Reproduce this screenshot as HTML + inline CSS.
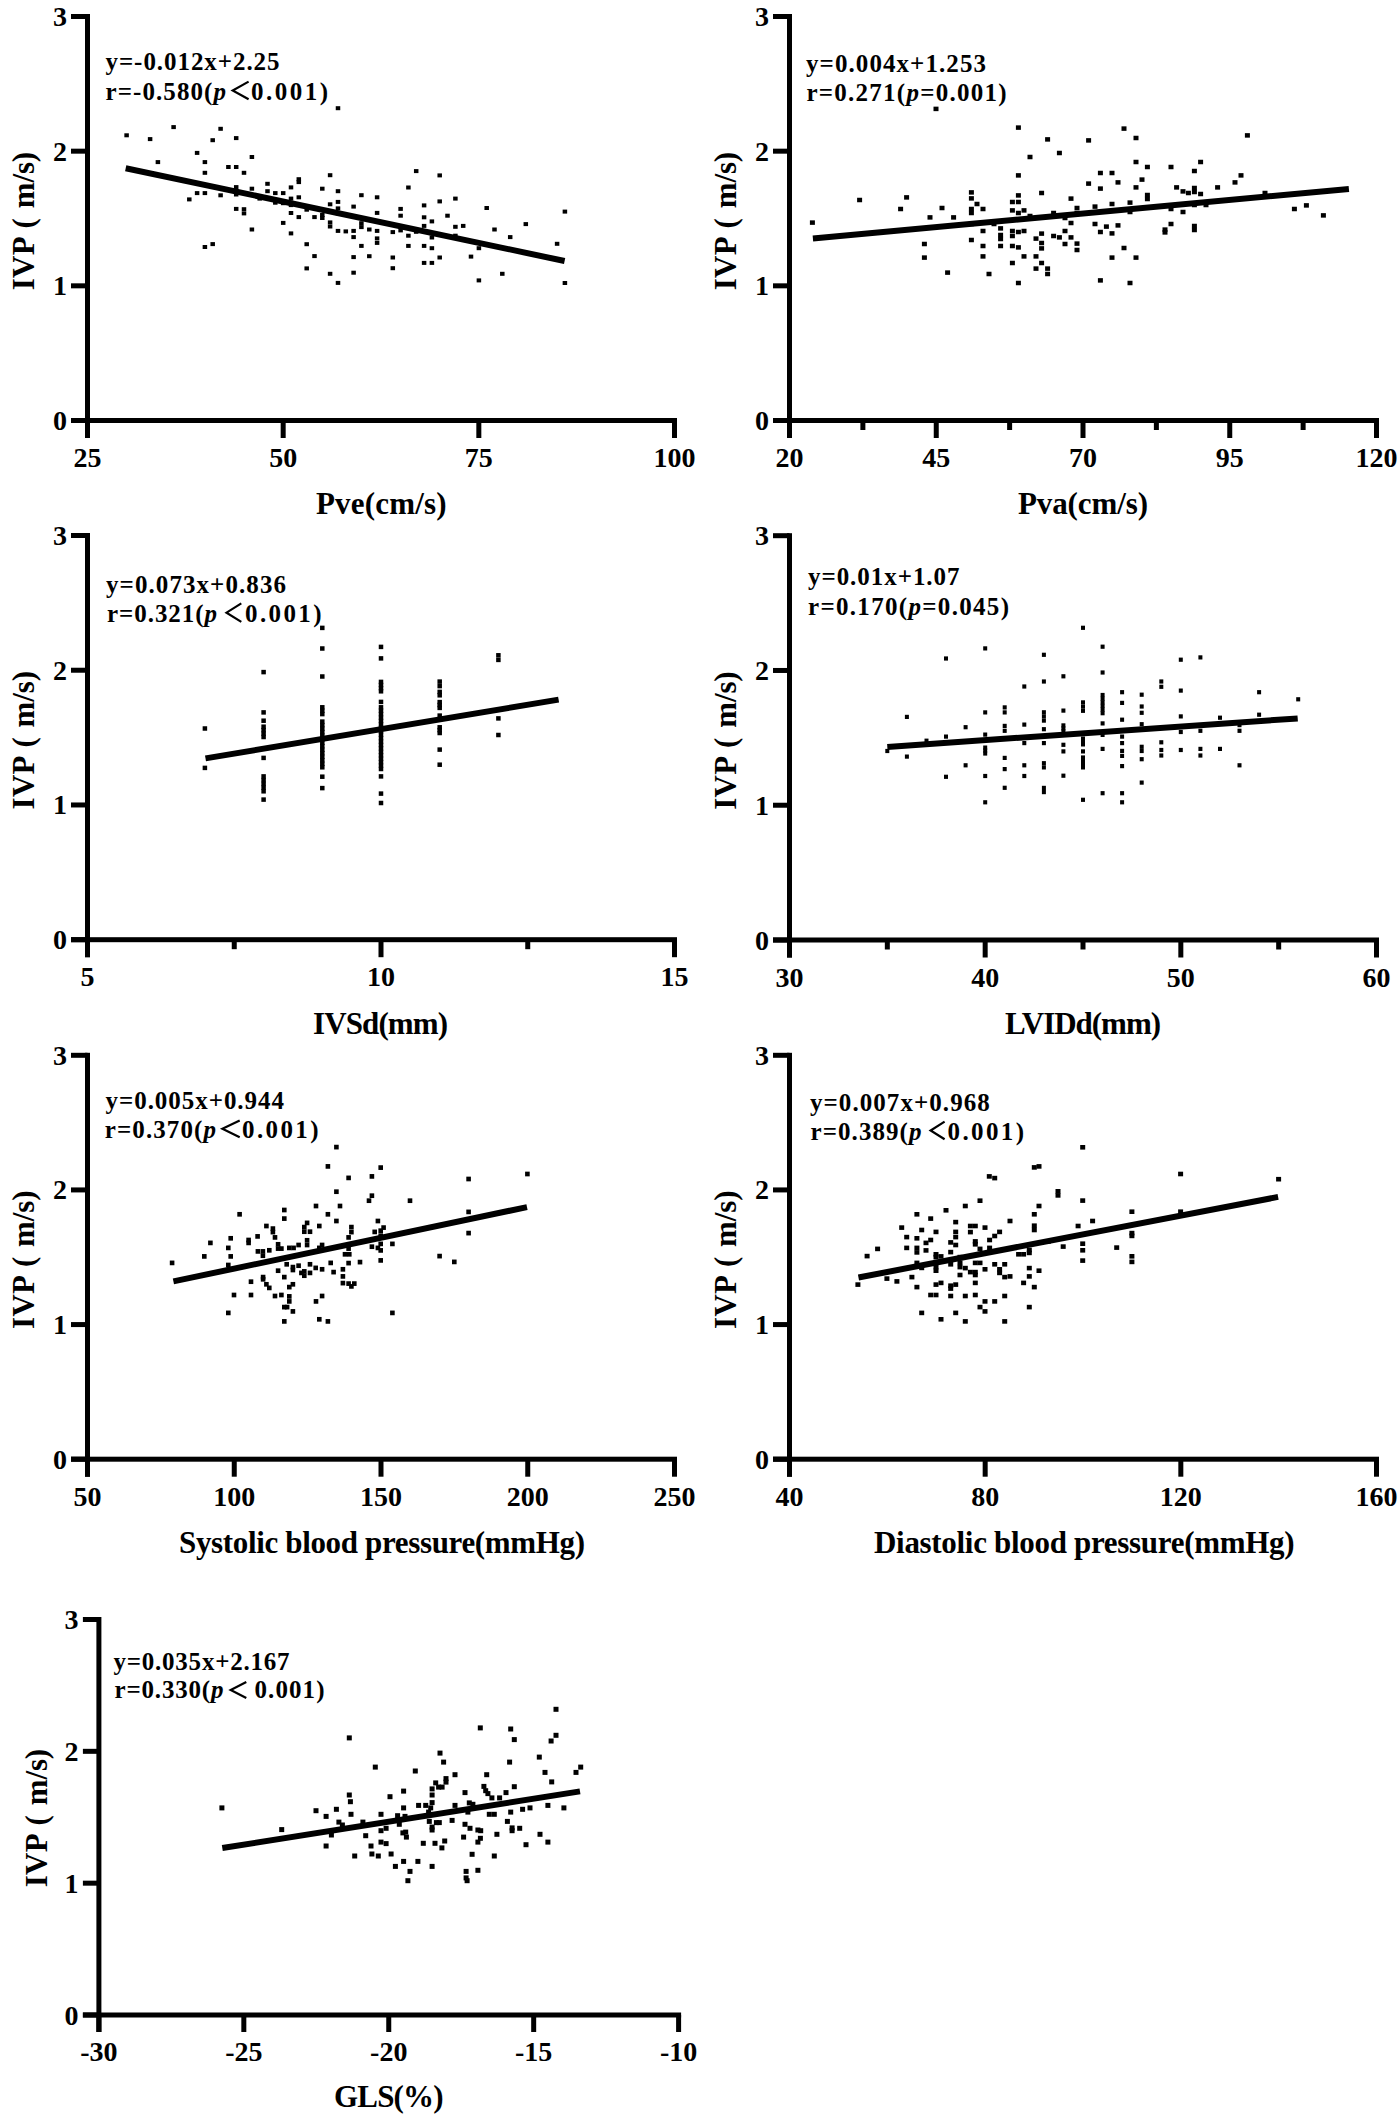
<!DOCTYPE html><html><head><meta charset="utf-8"><style>html,body{margin:0;padding:0;background:#fff;overflow:hidden}svg{display:block}text{font-family:"Liberation Serif", serif;font-weight:bold;fill:#000}</style></head><body>
<svg width="1400" height="2123" viewBox="0 0 1400 2123">
<g><rect x="85" y="14" width="5" height="424"/><rect x="71" y="418" width="606" height="5"/><rect x="71" y="418" width="16.5" height="5"/><rect x="71" y="283.33" width="16.5" height="5"/><rect x="71" y="148.67" width="16.5" height="5"/><rect x="71" y="14" width="16.5" height="5"/><rect x="85" y="420.5" width="5" height="17.5"/><rect x="280.67" y="420.5" width="5" height="17.5"/><rect x="476.33" y="420.5" width="5" height="17.5"/><rect x="672" y="420.5" width="5" height="17.5"/><text x="67" y="430" font-size="28" text-anchor="end">0</text><text x="67" y="295.33" font-size="28" text-anchor="end">1</text><text x="67" y="160.67" font-size="28" text-anchor="end">2</text><text x="67" y="26" font-size="28" text-anchor="end">3</text><text x="87.5" y="467" font-size="28" text-anchor="middle">25</text><text x="283.17" y="467" font-size="28" text-anchor="middle">50</text><text x="478.83" y="467" font-size="28" text-anchor="middle">75</text><text x="674.5" y="467" font-size="28" text-anchor="middle">100</text><text x="316" y="513.7" font-size="31" textLength="130.5" lengthAdjust="spacing">Pve(cm/s)</text><text transform="translate(34 289.2) rotate(-90)" font-size="31"><tspan x="-1" y="0" textLength="53.9" lengthAdjust="spacing">IVP</tspan><tspan x="60.8" y="0">(</tspan><tspan x="80.9" y="0" textLength="56.5" lengthAdjust="spacing">m/s)</tspan></text><text x="105.5" y="70" font-size="25" textLength="174" lengthAdjust="spacing">y=-0.012x+2.25</text><text x="105.5" y="100" font-size="25" textLength="120.5" lengthAdjust="spacing">r=-0.580(<tspan font-style="italic">p</tspan></text><text x="251" y="100" font-size="25" textLength="77" lengthAdjust="spacing">0.001)</text><polyline points="248.6,81.6 232.7,90.45 248.6,99.3" fill="none" stroke="#000" stroke-width="2.2" stroke-linejoin="miter"/><line x1="125.7" y1="168.2" x2="564.6" y2="261" stroke="#000" stroke-width="6"/><rect x="335.75" y="106.2" width="4.5" height="4"/><rect x="171.35" y="125.1" width="4.5" height="4"/><rect x="218.35" y="126.8" width="4.5" height="4"/><rect x="124.35" y="133.3" width="4.5" height="4"/><rect x="147.85" y="137.1" width="4.5" height="4"/><rect x="210.45" y="138.2" width="4.5" height="4"/><rect x="233.95" y="136.1" width="4.5" height="4"/><rect x="194.85" y="150.9" width="4.5" height="4"/><rect x="249.65" y="155" width="4.5" height="4"/><rect x="155.65" y="160.1" width="4.5" height="4"/><rect x="202.65" y="160.1" width="4.5" height="4"/><rect x="226.15" y="165" width="4.5" height="4"/><rect x="233.95" y="165" width="4.5" height="4"/><rect x="202.65" y="170.8" width="4.5" height="4"/><rect x="241.75" y="170.8" width="4.5" height="4"/><rect x="327.85" y="173.2" width="4.5" height="4"/><rect x="296.55" y="177.2" width="4.5" height="4"/><rect x="296.55" y="180.1" width="4.5" height="4"/><rect x="265.25" y="181.8" width="4.5" height="4"/><rect x="288.75" y="185.4" width="4.5" height="4"/><rect x="320.05" y="186.7" width="4.5" height="4"/><rect x="249.65" y="186.7" width="4.5" height="4"/><rect x="335.75" y="189.2" width="4.5" height="4"/><rect x="265.25" y="189.2" width="4.5" height="4"/><rect x="194.85" y="191.1" width="4.5" height="4"/><rect x="202.65" y="191.1" width="4.5" height="4"/><rect x="273.05" y="191.1" width="4.5" height="4"/><rect x="280.95" y="191.1" width="4.5" height="4"/><rect x="233.95" y="185.1" width="4.5" height="4"/><rect x="233.95" y="192.5" width="4.5" height="4"/><rect x="218.35" y="193.3" width="4.5" height="4"/><rect x="257.45" y="196.6" width="4.5" height="4"/><rect x="296.55" y="195.3" width="4.5" height="4"/><rect x="288.75" y="196.6" width="4.5" height="4"/><rect x="187.05" y="197.4" width="4.5" height="4"/><rect x="273.05" y="200.7" width="4.5" height="4"/><rect x="280.95" y="201.2" width="4.5" height="4"/><rect x="288.75" y="203.1" width="4.5" height="4"/><rect x="327.85" y="202.3" width="4.5" height="4"/><rect x="335.75" y="199.9" width="4.5" height="4"/><rect x="335.75" y="206.4" width="4.5" height="4"/><rect x="335.75" y="211.4" width="4.5" height="4"/><rect x="304.45" y="207.7" width="4.5" height="4"/><rect x="233.95" y="206.9" width="4.5" height="4"/><rect x="241.75" y="207.2" width="4.5" height="4"/><rect x="241.75" y="211.4" width="4.5" height="4"/><rect x="288.75" y="211" width="4.5" height="4"/><rect x="296.55" y="215.1" width="4.5" height="4"/><rect x="312.25" y="215.1" width="4.5" height="4"/><rect x="320.05" y="213" width="4.5" height="4"/><rect x="320.05" y="216" width="4.5" height="4"/><rect x="280.95" y="220.9" width="4.5" height="4"/><rect x="327.85" y="220.4" width="4.5" height="4"/><rect x="327.85" y="224.5" width="4.5" height="4"/><rect x="249.65" y="227.5" width="4.5" height="4"/><rect x="335.75" y="228.9" width="4.5" height="4"/><rect x="343.55" y="229.4" width="4.5" height="4"/><rect x="288.75" y="231.4" width="4.5" height="4"/><rect x="304.45" y="242.2" width="4.5" height="4"/><rect x="210.45" y="242.1" width="4.5" height="4"/><rect x="202.65" y="245" width="4.5" height="4"/><rect x="312.25" y="254.1" width="4.5" height="4"/><rect x="304.45" y="266.4" width="4.5" height="4"/><rect x="327.85" y="271.8" width="4.5" height="4"/><rect x="335.75" y="280.9" width="4.5" height="4"/><rect x="413.95" y="169.1" width="4.5" height="4"/><rect x="437.45" y="173.4" width="4.5" height="4"/><rect x="406.15" y="185.5" width="4.5" height="4"/><rect x="359.15" y="193.2" width="4.5" height="4"/><rect x="374.85" y="195.3" width="4.5" height="4"/><rect x="453.15" y="196.6" width="4.5" height="4"/><rect x="351.35" y="204.6" width="4.5" height="4"/><rect x="437.45" y="199.4" width="4.5" height="4"/><rect x="421.85" y="203.4" width="4.5" height="4"/><rect x="398.35" y="206.9" width="4.5" height="4"/><rect x="484.45" y="206" width="4.5" height="4"/><rect x="562.65" y="209.6" width="4.5" height="4"/><rect x="374.85" y="210.9" width="4.5" height="4"/><rect x="398.35" y="213.7" width="4.5" height="4"/><rect x="445.25" y="213.7" width="4.5" height="4"/><rect x="421.85" y="215.3" width="4.5" height="4"/><rect x="429.65" y="219.4" width="4.5" height="4"/><rect x="359.15" y="221.2" width="4.5" height="4"/><rect x="359.15" y="225.1" width="4.5" height="4"/><rect x="523.55" y="222.1" width="4.5" height="4"/><rect x="460.95" y="223.9" width="4.5" height="4"/><rect x="453.15" y="224.8" width="4.5" height="4"/><rect x="421.85" y="223.9" width="4.5" height="4"/><rect x="351.35" y="228.9" width="4.5" height="4"/><rect x="367.05" y="227.5" width="4.5" height="4"/><rect x="374.85" y="228.9" width="4.5" height="4"/><rect x="390.55" y="230.1" width="4.5" height="4"/><rect x="398.35" y="228.4" width="4.5" height="4"/><rect x="413.95" y="229.8" width="4.5" height="4"/><rect x="492.25" y="227.5" width="4.5" height="4"/><rect x="351.35" y="235.1" width="4.5" height="4"/><rect x="374.85" y="236.4" width="4.5" height="4"/><rect x="374.85" y="240.9" width="4.5" height="4"/><rect x="406.15" y="233.7" width="4.5" height="4"/><rect x="429.65" y="235.5" width="4.5" height="4"/><rect x="453.15" y="233.7" width="4.5" height="4"/><rect x="507.95" y="235.1" width="4.5" height="4"/><rect x="359.15" y="243.9" width="4.5" height="4"/><rect x="406.15" y="243.9" width="4.5" height="4"/><rect x="421.85" y="243.9" width="4.5" height="4"/><rect x="429.65" y="246.2" width="4.5" height="4"/><rect x="554.85" y="241.8" width="4.5" height="4"/><rect x="476.65" y="246.2" width="4.5" height="4"/><rect x="351.35" y="255.1" width="4.5" height="4"/><rect x="367.05" y="254.2" width="4.5" height="4"/><rect x="390.55" y="255.5" width="4.5" height="4"/><rect x="437.45" y="255.5" width="4.5" height="4"/><rect x="468.75" y="254.6" width="4.5" height="4"/><rect x="421.85" y="260.9" width="4.5" height="4"/><rect x="429.65" y="260.9" width="4.5" height="4"/><rect x="390.55" y="266.2" width="4.5" height="4"/><rect x="351.35" y="270.7" width="4.5" height="4"/><rect x="500.05" y="271.8" width="4.5" height="4"/><rect x="476.65" y="278.4" width="4.5" height="4"/><rect x="562.65" y="281" width="4.5" height="4"/></g>
<g><rect x="787" y="14" width="5" height="424"/><rect x="773" y="418" width="606" height="5"/><rect x="773" y="418" width="16.5" height="5"/><rect x="773" y="283.33" width="16.5" height="5"/><rect x="773" y="148.67" width="16.5" height="5"/><rect x="773" y="14" width="16.5" height="5"/><rect x="787" y="420.5" width="5" height="17.5"/><rect x="933.75" y="420.5" width="5" height="17.5"/><rect x="1080.5" y="420.5" width="5" height="17.5"/><rect x="1227.25" y="420.5" width="5" height="17.5"/><rect x="1374" y="420.5" width="5" height="17.5"/><rect x="860.38" y="420.5" width="5" height="9.5"/><rect x="1007.12" y="420.5" width="5" height="9.5"/><rect x="1153.88" y="420.5" width="5" height="9.5"/><rect x="1300.62" y="420.5" width="5" height="9.5"/><text x="769" y="430" font-size="28" text-anchor="end">0</text><text x="769" y="295.33" font-size="28" text-anchor="end">1</text><text x="769" y="160.67" font-size="28" text-anchor="end">2</text><text x="769" y="26" font-size="28" text-anchor="end">3</text><text x="789.5" y="467" font-size="28" text-anchor="middle">20</text><text x="936.25" y="467" font-size="28" text-anchor="middle">45</text><text x="1083" y="467" font-size="28" text-anchor="middle">70</text><text x="1229.75" y="467" font-size="28" text-anchor="middle">95</text><text x="1376.5" y="467" font-size="28" text-anchor="middle">120</text><text x="1018" y="514" font-size="31" textLength="130" lengthAdjust="spacing">Pva(cm/s)</text><text transform="translate(736 289.2) rotate(-90)" font-size="31"><tspan x="-1" y="0" textLength="53.9" lengthAdjust="spacing">IVP</tspan><tspan x="60.8" y="0">(</tspan><tspan x="80.9" y="0" textLength="56.5" lengthAdjust="spacing">m/s)</tspan></text><text x="806" y="71.8" font-size="25" textLength="180" lengthAdjust="spacing">y=0.004x+1.253</text><text x="806.5" y="101.25" font-size="25" textLength="200" lengthAdjust="spacing">r=0.271(<tspan font-style="italic">p</tspan>=0.001)</text><line x1="812.9" y1="238.6" x2="1348.9" y2="188.9" stroke="#000" stroke-width="6"/><rect x="933.5" y="106.65" width="5" height="4.5"/><rect x="1015.9" y="125.35" width="5" height="4.5"/><rect x="1045.1" y="137.15" width="5" height="4.5"/><rect x="1056.9" y="150.75" width="5" height="4.5"/><rect x="1027.5" y="154.75" width="5" height="4.5"/><rect x="1015.9" y="173.15" width="5" height="4.5"/><rect x="857.1" y="197.75" width="5" height="4.5"/><rect x="904.1" y="195.15" width="5" height="4.5"/><rect x="968.9" y="190.15" width="5" height="4.5"/><rect x="968.9" y="196.15" width="5" height="4.5"/><rect x="1039.1" y="190.75" width="5" height="4.5"/><rect x="1015.9" y="193.15" width="5" height="4.5"/><rect x="1068.5" y="196.35" width="5" height="4.5"/><rect x="974.5" y="201.75" width="5" height="4.5"/><rect x="1009.9" y="199.75" width="5" height="4.5"/><rect x="1015.9" y="199.75" width="5" height="4.5"/><rect x="898.1" y="206.75" width="5" height="4.5"/><rect x="939.5" y="205.75" width="5" height="4.5"/><rect x="968.9" y="206.75" width="5" height="4.5"/><rect x="968.9" y="210.75" width="5" height="4.5"/><rect x="980.5" y="206.75" width="5" height="4.5"/><rect x="1009.9" y="208.15" width="5" height="4.5"/><rect x="1021.5" y="208.15" width="5" height="4.5"/><rect x="1015.9" y="210.75" width="5" height="4.5"/><rect x="809.9" y="220.35" width="5" height="4.5"/><rect x="927.5" y="215.15" width="5" height="4.5"/><rect x="951.1" y="215.15" width="5" height="4.5"/><rect x="1027.5" y="213.75" width="5" height="4.5"/><rect x="1051.1" y="210.75" width="5" height="4.5"/><rect x="1074.5" y="205.75" width="5" height="4.5"/><rect x="1074.5" y="210.75" width="5" height="4.5"/><rect x="968.9" y="221.75" width="5" height="4.5"/><rect x="991.5" y="221.75" width="5" height="4.5"/><rect x="1068.5" y="220.75" width="5" height="4.5"/><rect x="1062.5" y="215.75" width="5" height="4.5"/><rect x="980.5" y="228.75" width="5" height="4.5"/><rect x="998.1" y="226.15" width="5" height="4.5"/><rect x="1009.9" y="228.75" width="5" height="4.5"/><rect x="1015.9" y="229.75" width="5" height="4.5"/><rect x="1021.5" y="228.75" width="5" height="4.5"/><rect x="1062.5" y="228.75" width="5" height="4.5"/><rect x="1039.1" y="231.35" width="5" height="4.5"/><rect x="998.1" y="232.75" width="5" height="4.5"/><rect x="998.1" y="236.75" width="5" height="4.5"/><rect x="1009.9" y="233.75" width="5" height="4.5"/><rect x="1033.5" y="236.35" width="5" height="4.5"/><rect x="1051.1" y="233.75" width="5" height="4.5"/><rect x="1056.9" y="235.15" width="5" height="4.5"/><rect x="1068.5" y="235.15" width="5" height="4.5"/><rect x="921.9" y="241.75" width="5" height="4.5"/><rect x="968.9" y="237.75" width="5" height="4.5"/><rect x="980.5" y="243.75" width="5" height="4.5"/><rect x="998.1" y="243.75" width="5" height="4.5"/><rect x="1009.9" y="243.75" width="5" height="4.5"/><rect x="1015.9" y="245.15" width="5" height="4.5"/><rect x="1039.1" y="240.75" width="5" height="4.5"/><rect x="1039.1" y="246.15" width="5" height="4.5"/><rect x="1062.5" y="241.75" width="5" height="4.5"/><rect x="1074.5" y="241.35" width="5" height="4.5"/><rect x="1074.5" y="247.75" width="5" height="4.5"/><rect x="921.9" y="255.35" width="5" height="4.5"/><rect x="980.5" y="254.15" width="5" height="4.5"/><rect x="1021.5" y="254.15" width="5" height="4.5"/><rect x="1033.5" y="254.15" width="5" height="4.5"/><rect x="1009.9" y="260.75" width="5" height="4.5"/><rect x="1039.1" y="260.75" width="5" height="4.5"/><rect x="1033.5" y="266.35" width="5" height="4.5"/><rect x="1045.1" y="266.35" width="5" height="4.5"/><rect x="1045.1" y="271.75" width="5" height="4.5"/><rect x="945.1" y="270.35" width="5" height="4.5"/><rect x="986.5" y="271.75" width="5" height="4.5"/><rect x="1015.9" y="280.75" width="5" height="4.5"/><rect x="1121.5" y="126.35" width="5" height="4.5"/><rect x="1086.1" y="138.15" width="5" height="4.5"/><rect x="1133.5" y="135.75" width="5" height="4.5"/><rect x="1244.9" y="133.15" width="5" height="4.5"/><rect x="1133.5" y="159.75" width="5" height="4.5"/><rect x="1144.9" y="164.75" width="5" height="4.5"/><rect x="1168.5" y="164.75" width="5" height="4.5"/><rect x="1198.1" y="159.75" width="5" height="4.5"/><rect x="1191.9" y="168.75" width="5" height="4.5"/><rect x="1097.9" y="170.75" width="5" height="4.5"/><rect x="1109.5" y="170.75" width="5" height="4.5"/><rect x="1139.5" y="177.35" width="5" height="4.5"/><rect x="1238.5" y="173.15" width="5" height="4.5"/><rect x="1086.1" y="181.35" width="5" height="4.5"/><rect x="1115.5" y="180.15" width="5" height="4.5"/><rect x="1232.5" y="180.15" width="5" height="4.5"/><rect x="1097.9" y="186.35" width="5" height="4.5"/><rect x="1133.5" y="185.15" width="5" height="4.5"/><rect x="1174.1" y="185.15" width="5" height="4.5"/><rect x="1180.5" y="189.15" width="5" height="4.5"/><rect x="1185.9" y="190.75" width="5" height="4.5"/><rect x="1191.9" y="185.75" width="5" height="4.5"/><rect x="1191.9" y="189.75" width="5" height="4.5"/><rect x="1198.1" y="191.75" width="5" height="4.5"/><rect x="1215.1" y="185.15" width="5" height="4.5"/><rect x="1144.9" y="192.75" width="5" height="4.5"/><rect x="1144.9" y="196.75" width="5" height="4.5"/><rect x="1262.5" y="190.75" width="5" height="4.5"/><rect x="1092.5" y="204.35" width="5" height="4.5"/><rect x="1109.5" y="201.75" width="5" height="4.5"/><rect x="1127.5" y="200.35" width="5" height="4.5"/><rect x="1168.5" y="206.75" width="5" height="4.5"/><rect x="1191.9" y="202.75" width="5" height="4.5"/><rect x="1203.5" y="202.75" width="5" height="4.5"/><rect x="1127.5" y="209.75" width="5" height="4.5"/><rect x="1180.5" y="209.75" width="5" height="4.5"/><rect x="1291.9" y="206.75" width="5" height="4.5"/><rect x="1303.9" y="203.15" width="5" height="4.5"/><rect x="1320.9" y="213.15" width="5" height="4.5"/><rect x="1092.5" y="221.75" width="5" height="4.5"/><rect x="1103.9" y="224.35" width="5" height="4.5"/><rect x="1115.5" y="223.15" width="5" height="4.5"/><rect x="1168.5" y="221.75" width="5" height="4.5"/><rect x="1191.9" y="223.75" width="5" height="4.5"/><rect x="1191.9" y="227.75" width="5" height="4.5"/><rect x="1097.9" y="229.75" width="5" height="4.5"/><rect x="1109.5" y="231.15" width="5" height="4.5"/><rect x="1162.5" y="227.35" width="5" height="4.5"/><rect x="1162.5" y="230.15" width="5" height="4.5"/><rect x="1121.5" y="245.75" width="5" height="4.5"/><rect x="1109.5" y="255.35" width="5" height="4.5"/><rect x="1133.5" y="255.35" width="5" height="4.5"/><rect x="1097.9" y="278.15" width="5" height="4.5"/><rect x="1127.5" y="280.75" width="5" height="4.5"/></g>
<g><rect x="85" y="533" width="5" height="424.2"/><rect x="71" y="937.2" width="606" height="5"/><rect x="71" y="937.2" width="16.5" height="5"/><rect x="71" y="802.47" width="16.5" height="5"/><rect x="71" y="667.73" width="16.5" height="5"/><rect x="71" y="533" width="16.5" height="5"/><rect x="85" y="939.7" width="5" height="17.5"/><rect x="378.5" y="939.7" width="5" height="17.5"/><rect x="672" y="939.7" width="5" height="17.5"/><rect x="231.75" y="939.7" width="5" height="9.5"/><rect x="525.25" y="939.7" width="5" height="9.5"/><text x="67" y="949.2" font-size="28" text-anchor="end">0</text><text x="67" y="814.47" font-size="28" text-anchor="end">1</text><text x="67" y="679.73" font-size="28" text-anchor="end">2</text><text x="67" y="545" font-size="28" text-anchor="end">3</text><text x="87.5" y="986.2" font-size="28" text-anchor="middle">5</text><text x="381" y="986.2" font-size="28" text-anchor="middle">10</text><text x="674.5" y="986.2" font-size="28" text-anchor="middle">15</text><text x="313" y="1033.9" font-size="31" textLength="135" lengthAdjust="spacing">IVSd(mm)</text><text transform="translate(34 808.4) rotate(-90)" font-size="31"><tspan x="-1" y="0" textLength="53.9" lengthAdjust="spacing">IVP</tspan><tspan x="60.8" y="0">(</tspan><tspan x="80.9" y="0" textLength="56.5" lengthAdjust="spacing">m/s)</tspan></text><text x="106" y="593" font-size="25" textLength="180" lengthAdjust="spacing">y=0.073x+0.836</text><text x="107" y="622.1" font-size="25" textLength="110" lengthAdjust="spacing">r=0.321(<tspan font-style="italic">p</tspan></text><text x="245" y="622.1" font-size="25" textLength="76.5" lengthAdjust="spacing">0.001)</text><polyline points="241.3,603.4 226.5,612.65 241.3,621.9" fill="none" stroke="#000" stroke-width="2.2" stroke-linejoin="miter"/><line x1="205.5" y1="758.4" x2="558.6" y2="699.6" stroke="#000" stroke-width="6"/><rect x="202.65" y="726.25" width="4.5" height="4.5"/><rect x="202.65" y="765.65" width="4.5" height="4.5"/><rect x="261.35" y="669.85" width="4.5" height="4.5"/><rect x="261.35" y="710.15" width="4.5" height="4.5"/><rect x="261.35" y="718.45" width="4.5" height="4.5"/><rect x="261.35" y="724.45" width="4.5" height="4.5"/><rect x="261.35" y="727.85" width="4.5" height="4.5"/><rect x="261.35" y="731.35" width="4.5" height="4.5"/><rect x="261.35" y="734.75" width="4.5" height="4.5"/><rect x="261.35" y="755.65" width="4.5" height="4.5"/><rect x="261.35" y="774.15" width="4.5" height="4.5"/><rect x="261.35" y="777.85" width="4.5" height="4.5"/><rect x="261.35" y="781.65" width="4.5" height="4.5"/><rect x="261.35" y="785.35" width="4.5" height="4.5"/><rect x="261.35" y="789.05" width="4.5" height="4.5"/><rect x="261.35" y="797.35" width="4.5" height="4.5"/><rect x="320.05" y="625.65" width="4.5" height="4.5"/><rect x="320.05" y="646.25" width="4.5" height="4.5"/><rect x="320.05" y="674.25" width="4.5" height="4.5"/><rect x="320.05" y="705.05" width="4.5" height="4.5"/><rect x="320.05" y="708.45" width="4.5" height="4.5"/><rect x="320.05" y="711.85" width="4.5" height="4.5"/><rect x="320.05" y="719.35" width="4.5" height="4.5"/><rect x="320.05" y="722.85" width="4.5" height="4.5"/><rect x="320.05" y="726.35" width="4.5" height="4.5"/><rect x="320.05" y="729.85" width="4.5" height="4.5"/><rect x="320.05" y="733.35" width="4.5" height="4.5"/><rect x="320.05" y="736.95" width="4.5" height="4.5"/><rect x="320.05" y="740.45" width="4.5" height="4.5"/><rect x="320.05" y="743.95" width="4.5" height="4.5"/><rect x="320.05" y="747.45" width="4.5" height="4.5"/><rect x="320.05" y="750.95" width="4.5" height="4.5"/><rect x="320.05" y="754.45" width="4.5" height="4.5"/><rect x="320.05" y="758.05" width="4.5" height="4.5"/><rect x="320.05" y="761.55" width="4.5" height="4.5"/><rect x="320.05" y="765.05" width="4.5" height="4.5"/><rect x="320.05" y="774.45" width="4.5" height="4.5"/><rect x="320.05" y="785.85" width="4.5" height="4.5"/><rect x="378.75" y="644.65" width="4.5" height="4.5"/><rect x="378.75" y="656.15" width="4.5" height="4.5"/><rect x="378.75" y="679.65" width="4.5" height="4.5"/><rect x="378.75" y="682.75" width="4.5" height="4.5"/><rect x="378.75" y="685.95" width="4.5" height="4.5"/><rect x="378.75" y="689.05" width="4.5" height="4.5"/><rect x="378.75" y="699.65" width="4.5" height="4.5"/><rect x="378.75" y="705.05" width="4.5" height="4.5"/><rect x="378.75" y="708.45" width="4.5" height="4.5"/><rect x="378.75" y="711.85" width="4.5" height="4.5"/><rect x="378.75" y="715.35" width="4.5" height="4.5"/><rect x="378.75" y="718.75" width="4.5" height="4.5"/><rect x="378.75" y="722.15" width="4.5" height="4.5"/><rect x="378.75" y="725.65" width="4.5" height="4.5"/><rect x="378.75" y="729.05" width="4.5" height="4.5"/><rect x="378.75" y="732.45" width="4.5" height="4.5"/><rect x="378.75" y="735.85" width="4.5" height="4.5"/><rect x="378.75" y="739.35" width="4.5" height="4.5"/><rect x="378.75" y="742.75" width="4.5" height="4.5"/><rect x="378.75" y="746.15" width="4.5" height="4.5"/><rect x="378.75" y="749.65" width="4.5" height="4.5"/><rect x="378.75" y="753.05" width="4.5" height="4.5"/><rect x="378.75" y="756.45" width="4.5" height="4.5"/><rect x="378.75" y="759.85" width="4.5" height="4.5"/><rect x="378.75" y="763.35" width="4.5" height="4.5"/><rect x="378.75" y="766.75" width="4.5" height="4.5"/><rect x="378.75" y="774.15" width="4.5" height="4.5"/><rect x="378.75" y="791.35" width="4.5" height="4.5"/><rect x="378.75" y="800.75" width="4.5" height="4.5"/><rect x="437.45" y="679.35" width="4.5" height="4.5"/><rect x="437.45" y="683.85" width="4.5" height="4.5"/><rect x="437.45" y="689.65" width="4.5" height="4.5"/><rect x="437.45" y="693.05" width="4.5" height="4.5"/><rect x="437.45" y="699.85" width="4.5" height="4.5"/><rect x="437.45" y="702.75" width="4.5" height="4.5"/><rect x="437.45" y="705.65" width="4.5" height="4.5"/><rect x="437.45" y="713.35" width="4.5" height="4.5"/><rect x="437.45" y="725.05" width="4.5" height="4.5"/><rect x="437.45" y="727.85" width="4.5" height="4.5"/><rect x="437.45" y="730.75" width="4.5" height="4.5"/><rect x="437.45" y="747.35" width="4.5" height="4.5"/><rect x="437.45" y="762.45" width="4.5" height="4.5"/><rect x="496.15" y="653.05" width="4.5" height="4.5"/><rect x="496.15" y="657.65" width="4.5" height="4.5"/><rect x="496.15" y="716.15" width="4.5" height="4.5"/><rect x="496.15" y="732.75" width="4.5" height="4.5"/></g>
<g><rect x="787" y="533.2" width="5" height="424.3"/><rect x="773" y="937.5" width="606" height="5"/><rect x="773" y="937.5" width="16.5" height="5"/><rect x="773" y="802.73" width="16.5" height="5"/><rect x="773" y="667.97" width="16.5" height="5"/><rect x="773" y="533.2" width="16.5" height="5"/><rect x="787" y="940" width="5" height="17.5"/><rect x="982.67" y="940" width="5" height="17.5"/><rect x="1178.33" y="940" width="5" height="17.5"/><rect x="1374" y="940" width="5" height="17.5"/><rect x="884.83" y="940" width="5" height="9.5"/><rect x="1080.5" y="940" width="5" height="9.5"/><rect x="1276.17" y="940" width="5" height="9.5"/><text x="769" y="949.5" font-size="28" text-anchor="end">0</text><text x="769" y="814.73" font-size="28" text-anchor="end">1</text><text x="769" y="679.97" font-size="28" text-anchor="end">2</text><text x="769" y="545.2" font-size="28" text-anchor="end">3</text><text x="789.5" y="986.5" font-size="28" text-anchor="middle">30</text><text x="985.17" y="986.5" font-size="28" text-anchor="middle">40</text><text x="1180.83" y="986.5" font-size="28" text-anchor="middle">50</text><text x="1376.5" y="986.5" font-size="28" text-anchor="middle">60</text><text x="1005" y="1034" font-size="31" textLength="156" lengthAdjust="spacing">LVIDd(mm)</text><text transform="translate(736 808.7) rotate(-90)" font-size="31"><tspan x="-1" y="0" textLength="53.9" lengthAdjust="spacing">IVP</tspan><tspan x="60.8" y="0">(</tspan><tspan x="80.9" y="0" textLength="56.5" lengthAdjust="spacing">m/s)</tspan></text><text x="808" y="585" font-size="25" textLength="151.5" lengthAdjust="spacing">y=0.01x+1.07</text><text x="808" y="614.5" font-size="25" textLength="201" lengthAdjust="spacing">r=0.170(<tspan font-style="italic">p</tspan>=0.045)</text><line x1="887.3" y1="746.9" x2="1297.7" y2="718.4" stroke="#000" stroke-width="6"/><rect x="885.3" y="748.9" width="4" height="4.2"/><rect x="904.9" y="714.8" width="4" height="4.2"/><rect x="904.9" y="754.5" width="4" height="4.2"/><rect x="924.5" y="738.6" width="4" height="4.2"/><rect x="944" y="656.4" width="4" height="4.2"/><rect x="944" y="734.5" width="4" height="4.2"/><rect x="944" y="774.7" width="4" height="4.2"/><rect x="963.6" y="725.1" width="4" height="4.2"/><rect x="963.6" y="763.2" width="4" height="4.2"/><rect x="983.2" y="646.3" width="4" height="4.2"/><rect x="983.2" y="710.3" width="4" height="4.2"/><rect x="983.2" y="732.5" width="4" height="4.2"/><rect x="983.2" y="745.5" width="4" height="4.2"/><rect x="983.2" y="748.4" width="4" height="4.2"/><rect x="983.2" y="751.4" width="4" height="4.2"/><rect x="983.2" y="773.9" width="4" height="4.2"/><rect x="983.2" y="800.2" width="4" height="4.2"/><rect x="1002.7" y="705.3" width="4" height="4.2"/><rect x="1002.7" y="710.3" width="4" height="4.2"/><rect x="1002.7" y="723.8" width="4" height="4.2"/><rect x="1002.7" y="728.7" width="4" height="4.2"/><rect x="1002.7" y="755.8" width="4" height="4.2"/><rect x="1002.7" y="767" width="4" height="4.2"/><rect x="1002.7" y="785.7" width="4" height="4.2"/><rect x="1022.3" y="684.4" width="4" height="4.2"/><rect x="1022.3" y="722.5" width="4" height="4.2"/><rect x="1022.3" y="741" width="4" height="4.2"/><rect x="1022.3" y="763.2" width="4" height="4.2"/><rect x="1022.3" y="773.9" width="4" height="4.2"/><rect x="1041.9" y="652.7" width="4" height="4.2"/><rect x="1041.9" y="679.4" width="4" height="4.2"/><rect x="1041.9" y="710.2" width="4" height="4.2"/><rect x="1041.9" y="714.3" width="4" height="4.2"/><rect x="1041.9" y="718.5" width="4" height="4.2"/><rect x="1041.9" y="727.1" width="4" height="4.2"/><rect x="1041.9" y="741" width="4" height="4.2"/><rect x="1041.9" y="761.1" width="4" height="4.2"/><rect x="1041.9" y="765.3" width="4" height="4.2"/><rect x="1041.9" y="785.8" width="4" height="4.2"/><rect x="1041.9" y="790" width="4" height="4.2"/><rect x="1061.4" y="674.2" width="4" height="4.2"/><rect x="1061.4" y="708.5" width="4" height="4.2"/><rect x="1061.4" y="723.3" width="4" height="4.2"/><rect x="1061.4" y="726.3" width="4" height="4.2"/><rect x="1061.4" y="729.2" width="4" height="4.2"/><rect x="1061.4" y="742.7" width="4" height="4.2"/><rect x="1061.4" y="749.3" width="4" height="4.2"/><rect x="1061.4" y="773.6" width="4" height="4.2"/><rect x="1081" y="625.7" width="4" height="4.2"/><rect x="1081" y="700.3" width="4" height="4.2"/><rect x="1081" y="704.5" width="4" height="4.2"/><rect x="1081" y="708.7" width="4" height="4.2"/><rect x="1081" y="736.5" width="4" height="4.2"/><rect x="1081" y="739.4" width="4" height="4.2"/><rect x="1081" y="742.3" width="4" height="4.2"/><rect x="1081" y="749.3" width="4" height="4.2"/><rect x="1081" y="755.4" width="4" height="4.2"/><rect x="1081" y="758.7" width="4" height="4.2"/><rect x="1081" y="762" width="4" height="4.2"/><rect x="1081" y="765.3" width="4" height="4.2"/><rect x="1081" y="797.7" width="4" height="4.2"/><rect x="1100.6" y="644.6" width="4" height="4.2"/><rect x="1100.6" y="670.4" width="4" height="4.2"/><rect x="1100.6" y="692.9" width="4" height="4.2"/><rect x="1100.6" y="696.6" width="4" height="4.2"/><rect x="1100.6" y="700.2" width="4" height="4.2"/><rect x="1100.6" y="703.8" width="4" height="4.2"/><rect x="1100.6" y="707.5" width="4" height="4.2"/><rect x="1100.6" y="711.1" width="4" height="4.2"/><rect x="1100.6" y="721.3" width="4" height="4.2"/><rect x="1100.6" y="732.8" width="4" height="4.2"/><rect x="1100.6" y="746.8" width="4" height="4.2"/><rect x="1100.6" y="791.1" width="4" height="4.2"/><rect x="1120.1" y="690.1" width="4" height="4.2"/><rect x="1120.1" y="700.8" width="4" height="4.2"/><rect x="1120.1" y="717.6" width="4" height="4.2"/><rect x="1120.1" y="734.5" width="4" height="4.2"/><rect x="1120.1" y="741" width="4" height="4.2"/><rect x="1120.1" y="748.8" width="4" height="4.2"/><rect x="1120.1" y="753.8" width="4" height="4.2"/><rect x="1120.1" y="764" width="4" height="4.2"/><rect x="1120.1" y="791.1" width="4" height="4.2"/><rect x="1120.1" y="800.2" width="4" height="4.2"/><rect x="1139.7" y="692.6" width="4" height="4.2"/><rect x="1139.7" y="704.4" width="4" height="4.2"/><rect x="1139.7" y="710.7" width="4" height="4.2"/><rect x="1139.7" y="722.1" width="4" height="4.2"/><rect x="1139.7" y="744.7" width="4" height="4.2"/><rect x="1139.7" y="748.9" width="4" height="4.2"/><rect x="1139.7" y="757.1" width="4" height="4.2"/><rect x="1139.7" y="780.5" width="4" height="4.2"/><rect x="1159.3" y="679.4" width="4" height="4.2"/><rect x="1159.3" y="684.7" width="4" height="4.2"/><rect x="1159.3" y="740.2" width="4" height="4.2"/><rect x="1159.3" y="747.9" width="4" height="4.2"/><rect x="1159.3" y="753.4" width="4" height="4.2"/><rect x="1178.8" y="657.6" width="4" height="4.2"/><rect x="1178.8" y="688.5" width="4" height="4.2"/><rect x="1178.8" y="714.3" width="4" height="4.2"/><rect x="1178.8" y="729.9" width="4" height="4.2"/><rect x="1178.8" y="747.9" width="4" height="4.2"/><rect x="1198.4" y="655.3" width="4" height="4.2"/><rect x="1198.4" y="728.7" width="4" height="4.2"/><rect x="1198.4" y="746.8" width="4" height="4.2"/><rect x="1198.4" y="753.4" width="4" height="4.2"/><rect x="1218" y="715.6" width="4" height="4.2"/><rect x="1218" y="746.8" width="4" height="4.2"/><rect x="1237.5" y="723" width="4" height="4.2"/><rect x="1237.5" y="728.7" width="4" height="4.2"/><rect x="1237.5" y="763.2" width="4" height="4.2"/><rect x="1257.1" y="690.1" width="4" height="4.2"/><rect x="1257.1" y="712.6" width="4" height="4.2"/><rect x="1296.2" y="697.2" width="4" height="4.2"/></g>
<g><rect x="85" y="1052.8" width="5" height="423.9"/><rect x="71" y="1456.7" width="606" height="5"/><rect x="71" y="1456.7" width="16.5" height="5"/><rect x="71" y="1322.07" width="16.5" height="5"/><rect x="71" y="1187.43" width="16.5" height="5"/><rect x="71" y="1052.8" width="16.5" height="5"/><rect x="85" y="1459.2" width="5" height="17.5"/><rect x="231.75" y="1459.2" width="5" height="17.5"/><rect x="378.5" y="1459.2" width="5" height="17.5"/><rect x="525.25" y="1459.2" width="5" height="17.5"/><rect x="672" y="1459.2" width="5" height="17.5"/><text x="67" y="1468.7" font-size="28" text-anchor="end">0</text><text x="67" y="1334.07" font-size="28" text-anchor="end">1</text><text x="67" y="1199.43" font-size="28" text-anchor="end">2</text><text x="67" y="1064.8" font-size="28" text-anchor="end">3</text><text x="87.5" y="1505.7" font-size="28" text-anchor="middle">50</text><text x="234.25" y="1505.7" font-size="28" text-anchor="middle">100</text><text x="381" y="1505.7" font-size="28" text-anchor="middle">150</text><text x="527.75" y="1505.7" font-size="28" text-anchor="middle">200</text><text x="674.5" y="1505.7" font-size="28" text-anchor="middle">250</text><text x="179" y="1552.9" font-size="31" textLength="406" lengthAdjust="spacing">Systolic blood pressure(mmHg)</text><text transform="translate(34 1327.9) rotate(-90)" font-size="31"><tspan x="-1" y="0" textLength="53.9" lengthAdjust="spacing">IVP</tspan><tspan x="60.8" y="0">(</tspan><tspan x="80.9" y="0" textLength="56.5" lengthAdjust="spacing">m/s)</tspan></text><text x="105.5" y="1109.1" font-size="25" textLength="178.5" lengthAdjust="spacing">y=0.005x+0.944</text><text x="104.75" y="1138.3" font-size="25" textLength="111.25" lengthAdjust="spacing">r=0.370(<tspan font-style="italic">p</tspan></text><text x="242" y="1138.3" font-size="25" textLength="76.5" lengthAdjust="spacing">0.001)</text><polyline points="239.7,1120.4 222.4,1128.85 239.7,1137.3" fill="none" stroke="#000" stroke-width="2.2" stroke-linejoin="miter"/><line x1="173.4" y1="1281.4" x2="527" y2="1207.1" stroke="#000" stroke-width="6"/><rect x="334.1" y="1144.75" width="4.6" height="4.7"/><rect x="325.6" y="1164.05" width="4.6" height="4.7"/><rect x="346.3" y="1175.55" width="4.6" height="4.7"/><rect x="334.1" y="1189.35" width="4.6" height="4.7"/><rect x="313.7" y="1203.65" width="4.6" height="4.7"/><rect x="337.7" y="1203.65" width="4.6" height="4.7"/><rect x="282" y="1207.65" width="4.6" height="4.7"/><rect x="237.3" y="1211.95" width="4.6" height="4.7"/><rect x="325.6" y="1211.95" width="4.6" height="4.7"/><rect x="282" y="1216.25" width="4.6" height="4.7"/><rect x="334.1" y="1218.65" width="4.6" height="4.7"/><rect x="264.1" y="1223.65" width="4.6" height="4.7"/><rect x="304.8" y="1220.55" width="4.6" height="4.7"/><rect x="317" y="1223.65" width="4.6" height="4.7"/><rect x="302" y="1224.75" width="4.6" height="4.7"/><rect x="270.6" y="1226.25" width="4.6" height="4.7"/><rect x="270.6" y="1229.75" width="4.6" height="4.7"/><rect x="302" y="1229.35" width="4.6" height="4.7"/><rect x="307.7" y="1229.35" width="4.6" height="4.7"/><rect x="349.1" y="1224.75" width="4.6" height="4.7"/><rect x="349.1" y="1229.75" width="4.6" height="4.7"/><rect x="255.3" y="1234.05" width="4.6" height="4.7"/><rect x="228.4" y="1235.95" width="4.6" height="4.7"/><rect x="272.7" y="1235.05" width="4.6" height="4.7"/><rect x="246.3" y="1237.65" width="4.6" height="4.7"/><rect x="246.3" y="1240.55" width="4.6" height="4.7"/><rect x="346.3" y="1235.05" width="4.6" height="4.7"/><rect x="208.1" y="1240.55" width="4.6" height="4.7"/><rect x="304.8" y="1237.95" width="4.6" height="4.7"/><rect x="304.8" y="1242.65" width="4.6" height="4.7"/><rect x="296.3" y="1242.65" width="4.6" height="4.7"/><rect x="275.8" y="1241.95" width="4.6" height="4.7"/><rect x="275.8" y="1246.25" width="4.6" height="4.7"/><rect x="279.1" y="1246.25" width="4.6" height="4.7"/><rect x="287" y="1245.55" width="4.6" height="4.7"/><rect x="291.3" y="1245.55" width="4.6" height="4.7"/><rect x="319.8" y="1242.65" width="4.6" height="4.7"/><rect x="317" y="1245.55" width="4.6" height="4.7"/><rect x="226" y="1245.55" width="4.6" height="4.7"/><rect x="255.6" y="1249.05" width="4.6" height="4.7"/><rect x="260.6" y="1249.05" width="4.6" height="4.7"/><rect x="260.6" y="1253.35" width="4.6" height="4.7"/><rect x="267" y="1247.95" width="4.6" height="4.7"/><rect x="346.3" y="1246.25" width="4.6" height="4.7"/><rect x="202" y="1254.05" width="4.6" height="4.7"/><rect x="228.4" y="1254.05" width="4.6" height="4.7"/><rect x="342.7" y="1251.95" width="4.6" height="4.7"/><rect x="347" y="1251.95" width="4.6" height="4.7"/><rect x="169.8" y="1260.55" width="4.6" height="4.7"/><rect x="284.4" y="1261.95" width="4.6" height="4.7"/><rect x="328.4" y="1260.55" width="4.6" height="4.7"/><rect x="346.3" y="1260.75" width="4.6" height="4.7"/><rect x="357.7" y="1259.75" width="4.6" height="4.7"/><rect x="226" y="1262.65" width="4.6" height="4.7"/><rect x="290.6" y="1264.75" width="4.6" height="4.7"/><rect x="290.6" y="1267.65" width="4.6" height="4.7"/><rect x="296.3" y="1263.35" width="4.6" height="4.7"/><rect x="307.7" y="1261.95" width="4.6" height="4.7"/><rect x="313.4" y="1265.55" width="4.6" height="4.7"/><rect x="319.8" y="1266.95" width="4.6" height="4.7"/><rect x="340.6" y="1266.95" width="4.6" height="4.7"/><rect x="302" y="1269.05" width="4.6" height="4.7"/><rect x="302" y="1273.35" width="4.6" height="4.7"/><rect x="307.7" y="1270.55" width="4.6" height="4.7"/><rect x="299.1" y="1270.55" width="4.6" height="4.7"/><rect x="331.3" y="1269.75" width="4.6" height="4.7"/><rect x="275.8" y="1268.35" width="4.6" height="4.7"/><rect x="282" y="1274.75" width="4.6" height="4.7"/><rect x="260.8" y="1274.75" width="4.6" height="4.7"/><rect x="260.8" y="1276.95" width="4.6" height="4.7"/><rect x="248.7" y="1279.35" width="4.6" height="4.7"/><rect x="340.6" y="1274.05" width="4.6" height="4.7"/><rect x="340.6" y="1280.75" width="4.6" height="4.7"/><rect x="346.3" y="1281.25" width="4.6" height="4.7"/><rect x="349.1" y="1284.05" width="4.6" height="4.7"/><rect x="352" y="1281.25" width="4.6" height="4.7"/><rect x="264.1" y="1281.95" width="4.6" height="4.7"/><rect x="267" y="1285.55" width="4.6" height="4.7"/><rect x="290.6" y="1281.95" width="4.6" height="4.7"/><rect x="287" y="1284.75" width="4.6" height="4.7"/><rect x="231.7" y="1292.65" width="4.6" height="4.7"/><rect x="248.7" y="1292.65" width="4.6" height="4.7"/><rect x="272.7" y="1293.65" width="4.6" height="4.7"/><rect x="279.1" y="1292.65" width="4.6" height="4.7"/><rect x="287" y="1294.05" width="4.6" height="4.7"/><rect x="319.8" y="1293.65" width="4.6" height="4.7"/><rect x="287" y="1299.05" width="4.6" height="4.7"/><rect x="313.7" y="1299.05" width="4.6" height="4.7"/><rect x="282" y="1304.75" width="4.6" height="4.7"/><rect x="284.8" y="1304.75" width="4.6" height="4.7"/><rect x="290.6" y="1309.05" width="4.6" height="4.7"/><rect x="226" y="1310.55" width="4.6" height="4.7"/><rect x="317" y="1316.95" width="4.6" height="4.7"/><rect x="282" y="1319.05" width="4.6" height="4.7"/><rect x="325.6" y="1319.05" width="4.6" height="4.7"/><rect x="378.4" y="1165.25" width="4.6" height="4.7"/><rect x="369.6" y="1174.05" width="4.6" height="4.7"/><rect x="466.3" y="1176.65" width="4.6" height="4.7"/><rect x="525.1" y="1171.65" width="4.6" height="4.7"/><rect x="369.6" y="1193.35" width="4.6" height="4.7"/><rect x="366.7" y="1198.35" width="4.6" height="4.7"/><rect x="407.7" y="1198.35" width="4.6" height="4.7"/><rect x="466.3" y="1209.55" width="4.6" height="4.7"/><rect x="375.6" y="1218.65" width="4.6" height="4.7"/><rect x="381.3" y="1225.25" width="4.6" height="4.7"/><rect x="372.4" y="1229.55" width="4.6" height="4.7"/><rect x="378.4" y="1228.35" width="4.6" height="4.7"/><rect x="378.4" y="1233.35" width="4.6" height="4.7"/><rect x="466.3" y="1230.75" width="4.6" height="4.7"/><rect x="378.4" y="1241.55" width="4.6" height="4.7"/><rect x="390.1" y="1241.55" width="4.6" height="4.7"/><rect x="369.6" y="1244.35" width="4.6" height="4.7"/><rect x="375.6" y="1245.55" width="4.6" height="4.7"/><rect x="378.4" y="1248.05" width="4.6" height="4.7"/><rect x="378.4" y="1258.05" width="4.6" height="4.7"/><rect x="437.3" y="1253.75" width="4.6" height="4.7"/><rect x="452" y="1259.55" width="4.6" height="4.7"/><rect x="390.1" y="1310.55" width="4.6" height="4.7"/></g>
<g><rect x="787" y="1052.8" width="5" height="423.9"/><rect x="773" y="1456.7" width="606" height="5"/><rect x="773" y="1456.7" width="16.5" height="5"/><rect x="773" y="1322.07" width="16.5" height="5"/><rect x="773" y="1187.43" width="16.5" height="5"/><rect x="773" y="1052.8" width="16.5" height="5"/><rect x="787" y="1459.2" width="5" height="17.5"/><rect x="982.67" y="1459.2" width="5" height="17.5"/><rect x="1178.33" y="1459.2" width="5" height="17.5"/><rect x="1374" y="1459.2" width="5" height="17.5"/><text x="769" y="1468.7" font-size="28" text-anchor="end">0</text><text x="769" y="1334.07" font-size="28" text-anchor="end">1</text><text x="769" y="1199.43" font-size="28" text-anchor="end">2</text><text x="769" y="1064.8" font-size="28" text-anchor="end">3</text><text x="789.5" y="1505.7" font-size="28" text-anchor="middle">40</text><text x="985.17" y="1505.7" font-size="28" text-anchor="middle">80</text><text x="1180.83" y="1505.7" font-size="28" text-anchor="middle">120</text><text x="1376.5" y="1505.7" font-size="28" text-anchor="middle">160</text><text x="874" y="1553" font-size="31" textLength="420.5" lengthAdjust="spacing">Diastolic blood pressure(mmHg)</text><text transform="translate(736 1327.9) rotate(-90)" font-size="31"><tspan x="-1" y="0" textLength="53.9" lengthAdjust="spacing">IVP</tspan><tspan x="60.8" y="0">(</tspan><tspan x="80.9" y="0" textLength="56.5" lengthAdjust="spacing">m/s)</tspan></text><text x="810" y="1110.9" font-size="25" textLength="179.75" lengthAdjust="spacing">y=0.007x+0.968</text><text x="810.5" y="1140.3" font-size="25" textLength="111" lengthAdjust="spacing">r=0.389(<tspan font-style="italic">p</tspan></text><text x="947.5" y="1140.3" font-size="25" textLength="76.5" lengthAdjust="spacing">0.001)</text><polyline points="944.6,1121.6 930.6,1130.45 944.6,1139.3" fill="none" stroke="#000" stroke-width="2.2" stroke-linejoin="miter"/><line x1="858.5" y1="1277.5" x2="1278.1" y2="1196.9" stroke="#000" stroke-width="6"/><rect x="1031.8" y="1165.1" width="5" height="4.6"/><rect x="1036.5" y="1164.1" width="5" height="4.6"/><rect x="986.8" y="1174.1" width="5" height="4.6"/><rect x="992.2" y="1175.8" width="5" height="4.6"/><rect x="977.5" y="1198.4" width="5" height="4.6"/><rect x="962.8" y="1203.7" width="5" height="4.6"/><rect x="943.5" y="1208" width="5" height="4.6"/><rect x="1036.5" y="1203.7" width="5" height="4.6"/><rect x="914.4" y="1212" width="5" height="4.6"/><rect x="1031.8" y="1212" width="5" height="4.6"/><rect x="928.2" y="1216.3" width="5" height="4.6"/><rect x="1007.5" y="1218.7" width="5" height="4.6"/><rect x="953.2" y="1219.8" width="5" height="4.6"/><rect x="899.2" y="1225.3" width="5" height="4.6"/><rect x="919.2" y="1227.7" width="5" height="4.6"/><rect x="933.5" y="1229.6" width="5" height="4.6"/><rect x="967.9" y="1223.7" width="5" height="4.6"/><rect x="972.8" y="1223.7" width="5" height="4.6"/><rect x="982.5" y="1225.3" width="5" height="4.6"/><rect x="967.9" y="1229.8" width="5" height="4.6"/><rect x="953.2" y="1229.6" width="5" height="4.6"/><rect x="1031.8" y="1223.4" width="5" height="4.6"/><rect x="1031.8" y="1227.7" width="5" height="4.6"/><rect x="997.1" y="1229.6" width="5" height="4.6"/><rect x="904.2" y="1234.8" width="5" height="4.6"/><rect x="914.4" y="1236" width="5" height="4.6"/><rect x="953.2" y="1234.8" width="5" height="4.6"/><rect x="992.2" y="1233.7" width="5" height="4.6"/><rect x="928.2" y="1237.7" width="5" height="4.6"/><rect x="923.5" y="1240.6" width="5" height="4.6"/><rect x="948.2" y="1240.1" width="5" height="4.6"/><rect x="953.2" y="1242.7" width="5" height="4.6"/><rect x="972.8" y="1239.1" width="5" height="4.6"/><rect x="972.8" y="1242" width="5" height="4.6"/><rect x="987.1" y="1237.7" width="5" height="4.6"/><rect x="875.1" y="1246.6" width="5" height="4.6"/><rect x="904.2" y="1245.6" width="5" height="4.6"/><rect x="914.4" y="1245.6" width="5" height="4.6"/><rect x="914.4" y="1250.1" width="5" height="4.6"/><rect x="923.5" y="1248.1" width="5" height="4.6"/><rect x="948.2" y="1249.8" width="5" height="4.6"/><rect x="977.5" y="1246.6" width="5" height="4.6"/><rect x="987.1" y="1245.6" width="5" height="4.6"/><rect x="1026.8" y="1247.7" width="5" height="4.6"/><rect x="1026.8" y="1250.6" width="5" height="4.6"/><rect x="864.6" y="1253.8" width="5" height="4.6"/><rect x="933.5" y="1252" width="5" height="4.6"/><rect x="933.5" y="1254.8" width="5" height="4.6"/><rect x="938.5" y="1254.1" width="5" height="4.6"/><rect x="1016.1" y="1252" width="5" height="4.6"/><rect x="1021.1" y="1252" width="5" height="4.6"/><rect x="957.5" y="1254.8" width="5" height="4.6"/><rect x="914.4" y="1260.6" width="5" height="4.6"/><rect x="972.8" y="1260.6" width="5" height="4.6"/><rect x="977.5" y="1260.6" width="5" height="4.6"/><rect x="992.2" y="1262" width="5" height="4.6"/><rect x="1002.2" y="1262" width="5" height="4.6"/><rect x="948.2" y="1262" width="5" height="4.6"/><rect x="957.5" y="1260.6" width="5" height="4.6"/><rect x="957.5" y="1264.8" width="5" height="4.6"/><rect x="919.2" y="1265.6" width="5" height="4.6"/><rect x="933.5" y="1264.8" width="5" height="4.6"/><rect x="933.5" y="1268.4" width="5" height="4.6"/><rect x="962.8" y="1265.8" width="5" height="4.6"/><rect x="982.5" y="1267" width="5" height="4.6"/><rect x="997.1" y="1267" width="5" height="4.6"/><rect x="997.1" y="1270.6" width="5" height="4.6"/><rect x="1026.8" y="1265.8" width="5" height="4.6"/><rect x="1036.5" y="1268.4" width="5" height="4.6"/><rect x="967.9" y="1269.8" width="5" height="4.6"/><rect x="972.8" y="1269.8" width="5" height="4.6"/><rect x="972.8" y="1272.7" width="5" height="4.6"/><rect x="957.5" y="1272.7" width="5" height="4.6"/><rect x="1002.2" y="1274.8" width="5" height="4.6"/><rect x="1007.5" y="1274.1" width="5" height="4.6"/><rect x="1026.8" y="1274.1" width="5" height="4.6"/><rect x="855.4" y="1282.3" width="5" height="4.6"/><rect x="884.4" y="1276.3" width="5" height="4.6"/><rect x="894.4" y="1279.1" width="5" height="4.6"/><rect x="909.4" y="1274.8" width="5" height="4.6"/><rect x="914.4" y="1284.8" width="5" height="4.6"/><rect x="933.5" y="1282.3" width="5" height="4.6"/><rect x="938.5" y="1280.6" width="5" height="4.6"/><rect x="948.2" y="1283.4" width="5" height="4.6"/><rect x="948.2" y="1286.3" width="5" height="4.6"/><rect x="953.2" y="1282.3" width="5" height="4.6"/><rect x="972.8" y="1280.6" width="5" height="4.6"/><rect x="1021.1" y="1280.6" width="5" height="4.6"/><rect x="1031.8" y="1284.8" width="5" height="4.6"/><rect x="928.2" y="1292.7" width="5" height="4.6"/><rect x="933.5" y="1292.7" width="5" height="4.6"/><rect x="948.2" y="1293.7" width="5" height="4.6"/><rect x="962.8" y="1293.7" width="5" height="4.6"/><rect x="972.8" y="1292.7" width="5" height="4.6"/><rect x="1002.2" y="1293.7" width="5" height="4.6"/><rect x="982.5" y="1299.1" width="5" height="4.6"/><rect x="992.2" y="1299.1" width="5" height="4.6"/><rect x="977.5" y="1304.8" width="5" height="4.6"/><rect x="982.5" y="1309.1" width="5" height="4.6"/><rect x="1026.8" y="1304.8" width="5" height="4.6"/><rect x="919.2" y="1310.6" width="5" height="4.6"/><rect x="953.2" y="1310.6" width="5" height="4.6"/><rect x="938.5" y="1317" width="5" height="4.6"/><rect x="962.8" y="1319.1" width="5" height="4.6"/><rect x="1002.2" y="1319.1" width="5" height="4.6"/><rect x="1080.2" y="1145" width="5" height="4.6"/><rect x="1178.1" y="1171.7" width="5" height="4.6"/><rect x="1276.1" y="1176.9" width="5" height="4.6"/><rect x="1055.5" y="1189" width="5" height="4.6"/><rect x="1055.5" y="1193.1" width="5" height="4.6"/><rect x="1080.2" y="1198.3" width="5" height="4.6"/><rect x="1129.4" y="1209.4" width="5" height="4.6"/><rect x="1178.1" y="1209.4" width="5" height="4.6"/><rect x="1090.1" y="1218.7" width="5" height="4.6"/><rect x="1075.6" y="1223.7" width="5" height="4.6"/><rect x="1129.4" y="1230.8" width="5" height="4.6"/><rect x="1129.4" y="1233.6" width="5" height="4.6"/><rect x="1060.7" y="1244.3" width="5" height="4.6"/><rect x="1080.2" y="1241.4" width="5" height="4.6"/><rect x="1080.2" y="1248" width="5" height="4.6"/><rect x="1114.2" y="1245.3" width="5" height="4.6"/><rect x="1080.2" y="1258.3" width="5" height="4.6"/><rect x="1129.4" y="1254" width="5" height="4.6"/><rect x="1129.4" y="1259.6" width="5" height="4.6"/><rect x="1045.9" y="1239.1" width="5" height="4.6"/></g>
<g><rect x="96.4" y="1617" width="5" height="415"/><rect x="82.9" y="2012.5" width="598.2" height="5"/><rect x="82.9" y="2012.5" width="16" height="5"/><rect x="82.9" y="1880.67" width="16" height="5"/><rect x="82.9" y="1748.83" width="16" height="5"/><rect x="82.9" y="1617" width="16" height="5"/><rect x="96.4" y="2015" width="5" height="17"/><rect x="241.33" y="2015" width="5" height="17"/><rect x="386.25" y="2015" width="5" height="17"/><rect x="531.18" y="2015" width="5" height="17"/><rect x="676.1" y="2015" width="5" height="17"/><text x="78.4" y="2024.5" font-size="28" text-anchor="end">0</text><text x="78.4" y="1892.67" font-size="28" text-anchor="end">1</text><text x="78.4" y="1760.83" font-size="28" text-anchor="end">2</text><text x="78.4" y="1629" font-size="28" text-anchor="end">3</text><text x="98.9" y="2060.5" font-size="28" text-anchor="middle">-30</text><text x="243.83" y="2060.5" font-size="28" text-anchor="middle">-25</text><text x="388.75" y="2060.5" font-size="28" text-anchor="middle">-20</text><text x="533.68" y="2060.5" font-size="28" text-anchor="middle">-15</text><text x="678.6" y="2060.5" font-size="28" text-anchor="middle">-10</text><text x="334" y="2106.9" font-size="31" textLength="109.5" lengthAdjust="spacing">GLS(%)</text><text transform="translate(47 1886.2) rotate(-90)" font-size="31"><tspan x="-1" y="0" textLength="53.9" lengthAdjust="spacing">IVP</tspan><tspan x="60.8" y="0">(</tspan><tspan x="80.9" y="0" textLength="56.5" lengthAdjust="spacing">m/s)</tspan></text><text x="113.5" y="1670" font-size="25" textLength="176" lengthAdjust="spacing">y=0.035x+2.167</text><text x="114.5" y="1698.3" font-size="25" textLength="109" lengthAdjust="spacing">r=0.330(<tspan font-style="italic">p</tspan></text><text x="254.5" y="1698.3" font-size="25" textLength="70" lengthAdjust="spacing">0.001)</text><polyline points="246.3,1682 230.7,1690.05 246.3,1698.1" fill="none" stroke="#000" stroke-width="2.2" stroke-linejoin="miter"/><line x1="222.3" y1="1848" x2="580" y2="1791.4" stroke="#000" stroke-width="6"/><rect x="346.8" y="1735.4" width="5" height="5"/><rect x="372.8" y="1764.6" width="5" height="5"/><rect x="346.8" y="1792.5" width="5" height="5"/><rect x="347.9" y="1799.2" width="5" height="5"/><rect x="387.5" y="1794.2" width="5" height="5"/><rect x="401.1" y="1788.6" width="5" height="5"/><rect x="219.4" y="1805.4" width="5" height="5"/><rect x="313.5" y="1808.2" width="5" height="5"/><rect x="333.9" y="1806.8" width="5" height="5"/><rect x="323.6" y="1813.9" width="5" height="5"/><rect x="348.5" y="1811.8" width="5" height="5"/><rect x="378.5" y="1811.8" width="5" height="5"/><rect x="401.1" y="1805.4" width="5" height="5"/><rect x="336.4" y="1819.6" width="5" height="5"/><rect x="339.9" y="1822.5" width="5" height="5"/><rect x="360.4" y="1819.6" width="5" height="5"/><rect x="395.1" y="1813.2" width="5" height="5"/><rect x="396.8" y="1821.8" width="5" height="5"/><rect x="279.2" y="1827.1" width="5" height="5"/><rect x="328.9" y="1832.5" width="5" height="5"/><rect x="378.5" y="1828.2" width="5" height="5"/><rect x="383.6" y="1825.8" width="5" height="5"/><rect x="363.2" y="1833.2" width="5" height="5"/><rect x="400.4" y="1830.4" width="5" height="5"/><rect x="323.6" y="1843.5" width="5" height="5"/><rect x="368.5" y="1843.5" width="5" height="5"/><rect x="378.5" y="1839.6" width="5" height="5"/><rect x="383.6" y="1841.1" width="5" height="5"/><rect x="352.2" y="1853.5" width="5" height="5"/><rect x="369.4" y="1851.5" width="5" height="5"/><rect x="375.8" y="1853.5" width="5" height="5"/><rect x="388.6" y="1851.5" width="5" height="5"/><rect x="401.1" y="1858.9" width="5" height="5"/><rect x="392.9" y="1863.9" width="5" height="5"/><rect x="553.5" y="1706.8" width="5" height="5"/><rect x="477.8" y="1725.4" width="5" height="5"/><rect x="508.2" y="1726.5" width="5" height="5"/><rect x="511.8" y="1737.1" width="5" height="5"/><rect x="553.5" y="1732.8" width="5" height="5"/><rect x="548.6" y="1738.5" width="5" height="5"/><rect x="437.5" y="1750.6" width="5" height="5"/><rect x="441.1" y="1759.6" width="5" height="5"/><rect x="536.8" y="1754.6" width="5" height="5"/><rect x="507.1" y="1759.6" width="5" height="5"/><rect x="412.8" y="1768.5" width="5" height="5"/><rect x="578.2" y="1764.6" width="5" height="5"/><rect x="573.5" y="1769.9" width="5" height="5"/><rect x="542.5" y="1769.9" width="5" height="5"/><rect x="452.5" y="1772.2" width="5" height="5"/><rect x="484.2" y="1772.2" width="5" height="5"/><rect x="443.5" y="1776.1" width="5" height="5"/><rect x="443.5" y="1779.6" width="5" height="5"/><rect x="433.2" y="1780.4" width="5" height="5"/><rect x="436.1" y="1784.6" width="5" height="5"/><rect x="439.6" y="1784.6" width="5" height="5"/><rect x="549.2" y="1779.4" width="5" height="5"/><rect x="511.8" y="1784.2" width="5" height="5"/><rect x="481.4" y="1783.9" width="5" height="5"/><rect x="429.6" y="1786.4" width="5" height="5"/><rect x="429.6" y="1792.5" width="5" height="5"/><rect x="462.5" y="1790.1" width="5" height="5"/><rect x="483.2" y="1788.2" width="5" height="5"/><rect x="485.4" y="1791.1" width="5" height="5"/><rect x="489.4" y="1795.4" width="5" height="5"/><rect x="497.1" y="1795.4" width="5" height="5"/><rect x="503.5" y="1790.1" width="5" height="5"/><rect x="416.1" y="1802.9" width="5" height="5"/><rect x="423.2" y="1802.9" width="5" height="5"/><rect x="429.6" y="1800.1" width="5" height="5"/><rect x="428.2" y="1805.4" width="5" height="5"/><rect x="452.5" y="1802.9" width="5" height="5"/><rect x="466.8" y="1800.4" width="5" height="5"/><rect x="470.4" y="1801.8" width="5" height="5"/><rect x="545.4" y="1802.9" width="5" height="5"/><rect x="527.5" y="1805.4" width="5" height="5"/><rect x="520.1" y="1806.8" width="5" height="5"/><rect x="561.4" y="1805.4" width="5" height="5"/><rect x="426.1" y="1809.6" width="5" height="5"/><rect x="465.4" y="1809.6" width="5" height="5"/><rect x="508.2" y="1809.6" width="5" height="5"/><rect x="486.8" y="1811.8" width="5" height="5"/><rect x="491.8" y="1811.8" width="5" height="5"/><rect x="402.5" y="1813.9" width="5" height="5"/><rect x="426.8" y="1818.9" width="5" height="5"/><rect x="433.9" y="1820.1" width="5" height="5"/><rect x="436.8" y="1820.1" width="5" height="5"/><rect x="449.6" y="1817.9" width="5" height="5"/><rect x="462.5" y="1821.8" width="5" height="5"/><rect x="504.9" y="1818.9" width="5" height="5"/><rect x="429.6" y="1824.6" width="5" height="5"/><rect x="429.6" y="1827.5" width="5" height="5"/><rect x="467.5" y="1825.8" width="5" height="5"/><rect x="475.4" y="1827.5" width="5" height="5"/><rect x="478.2" y="1828.2" width="5" height="5"/><rect x="509.6" y="1825.4" width="5" height="5"/><rect x="509.6" y="1828.2" width="5" height="5"/><rect x="517.2" y="1825.8" width="5" height="5"/><rect x="403.2" y="1829.6" width="5" height="5"/><rect x="403.9" y="1834.6" width="5" height="5"/><rect x="461.1" y="1834.6" width="5" height="5"/><rect x="477.9" y="1835.8" width="5" height="5"/><rect x="475.4" y="1839.6" width="5" height="5"/><rect x="494.4" y="1831.8" width="5" height="5"/><rect x="537.5" y="1831.8" width="5" height="5"/><rect x="545.4" y="1839.6" width="5" height="5"/><rect x="420.8" y="1840.8" width="5" height="5"/><rect x="432.5" y="1840.8" width="5" height="5"/><rect x="442.2" y="1838.5" width="5" height="5"/><rect x="439.4" y="1845.4" width="5" height="5"/><rect x="523.5" y="1842.2" width="5" height="5"/><rect x="469.6" y="1851.8" width="5" height="5"/><rect x="491.8" y="1853.5" width="5" height="5"/><rect x="415.4" y="1858.9" width="5" height="5"/><rect x="429.6" y="1863.9" width="5" height="5"/><rect x="407.5" y="1868.9" width="5" height="5"/><rect x="463.6" y="1868.9" width="5" height="5"/><rect x="475.4" y="1867.8" width="5" height="5"/><rect x="405.4" y="1878.2" width="5" height="5"/><rect x="463.6" y="1875.4" width="5" height="5"/><rect x="464.6" y="1878.2" width="5" height="5"/></g>
</svg></body></html>
